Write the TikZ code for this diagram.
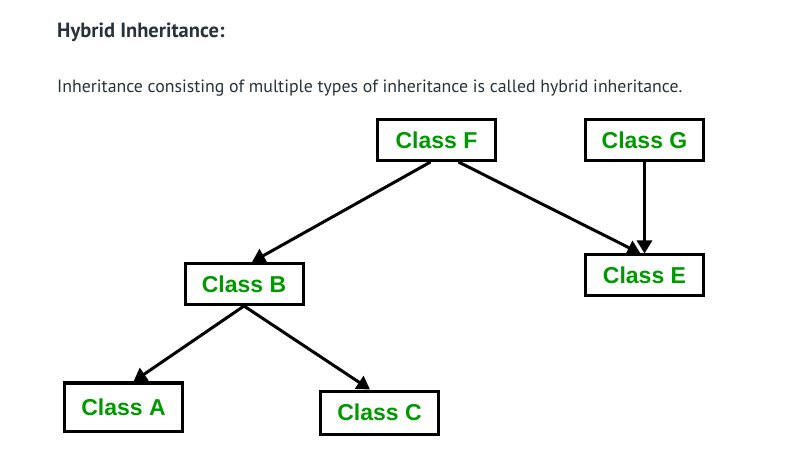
\documentclass[tikz,border=0pt]{standalone}
\usepackage{fontspec}
\setmainfont{PT Sans}
\newfontfamily\boxfont{Liberation Sans}
\usetikzlibrary{arrows.meta}
\definecolor{txtgray}{RGB}{39,50,57}
\definecolor{clsgreen}{RGB}{0,153,0}

\begin{document}
\begin{tikzpicture}[x=1bp,y=-1bp,
    cls/.style={draw,line width=3bp,fill=white,minimum width=118bp,minimum height=41bp,
      inner sep=0pt,text=clsgreen,font=\boxfont\bfseries\fontsize{23bp}{25bp}\selectfont},
    inh/.style={line width=3bp,-{Triangle[length=13bp,width=15bp]}}]
            \useasboundingbox (0,0) rectangle (799,464);
          \node [anchor=base west,text=txtgray,inner sep=0pt,font=\bfseries\fontsize{20.5bp}{22bp}\selectfont] (head) at (57,38) {Hybrid Inheritance:};
          \node [anchor=base west,text=txtgray,inner sep=0pt,font=\fontsize{17.8bp}{20bp}\selectfont] (intro) at (57,93) {Inheritance consisting of multiple types of inheritance is called hybrid inheritance.};
          \node [cls] (F) at (436.5,140) {Class F};
          \node [cls] (G) at (644.5,140) {Class G};
          \node [cls] (E) at (644.5,275.5) {Class E};
          \node [cls] (B) at (244,284) {Class B};
          \node [cls,minimum height=48bp] (A) at (123.5,407) {Class A};
          \node [cls,minimum height=43bp] (C) at (379.5,412.5) {Class C};
            \draw [inh] ([xshift=-6bp]F.south) -- ([xshift=8bp]B.north);
            \draw [inh] ([xshift=22bp]F.south) -- ([xshift=-4bp]E.north);
            \draw [inh] (G.south) -- (E.north);
            \draw [inh] (B.south) -- ([xshift=10bp]A.north);
            \draw [inh] (B.south) -- ([xshift=-9.5bp]C.north);
        \end{tikzpicture}
\end{document}
